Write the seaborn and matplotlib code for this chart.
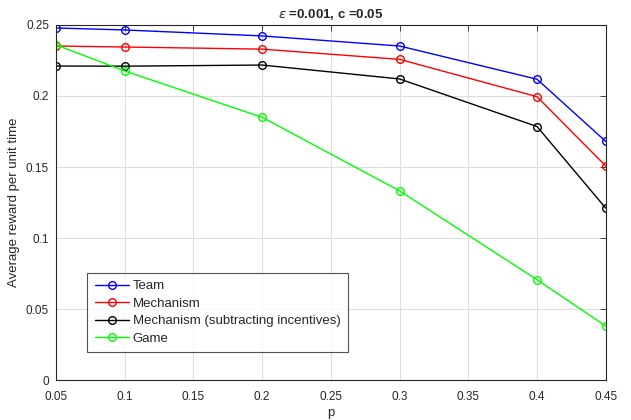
import matplotlib
matplotlib.use("Agg")
import matplotlib.pyplot as plt
import seaborn as sns
import pandas as pd

p = [0.05, 0.1, 0.2, 0.3, 0.4, 0.45]
team = [0.2479, 0.2465, 0.2423, 0.2352, 0.2118, 0.1680]
mechanism = [0.2352, 0.2345, 0.2330, 0.2258, 0.1995, 0.1507]
mech_sub = [0.2211, 0.2210, 0.2218, 0.2120, 0.1785, 0.1210]
game = [0.2360, 0.2176, 0.1850, 0.1332, 0.0706, 0.0380]

labels = ["Team", "Mechanism", "Mechanism (subtracting incentives)", "Game"]
colors = ["#0000ff", "#ff0000", "#000000", "#00ff00"]
x_ticks = [0.05, 0.1, 0.15, 0.2, 0.25, 0.3, 0.35, 0.4, 0.45]
y_ticks = [0, 0.05, 0.1, 0.15, 0.2, 0.25]

df = pd.DataFrame({
    "p": p * 4,
    "reward": team + mechanism + mech_sub + game,
    "series": [l for l in labels for _ in p],
})

sns.set_style("white")
plt.rcParams["font.family"] = ["Liberation Sans", "DejaVu Sans"]

fig = plt.figure(figsize=(6.31, 4.2), dpi=100)
ax = fig.add_axes([0.0887, 0.0952, 0.8713, 0.8453])

sns.lineplot(data=df, x="p", y="reward", hue="series", palette=colors,
             hue_order=labels, marker="o", markersize=5.5, markerfacecolor="none",
             markeredgewidth=1.0, linewidth=1.0, ax=ax, legend=False)
for line, c in zip(ax.lines, colors):
    line.set_markeredgecolor(c)

ax.set_xlim(0.05, 0.45)
ax.set_ylim(0, 0.25)
ax.set_xticks(x_ticks)
ax.set_xticklabels([f"{t:g}" for t in x_ticks])
ax.set_yticks(y_ticks)
ax.set_yticklabels([f"{t:g}" for t in y_ticks])
ax.grid(True, color="#dedede", linewidth=0.8)
ax.tick_params(direction="in", top=True, right=True, labelsize=8.5,
               colors="#262626", length=4, width=0.6)
ax.tick_params(axis="x", pad=8)
ax.tick_params(axis="y", pad=5)
for s in ax.spines.values():
    s.set_color("#262626")
    s.set_linewidth(0.8)

ax.set_xlabel("p", fontsize=9.5, color="#262626", labelpad=3)
ax.set_ylabel("Average reward per unit time", fontsize=9.5, color="#262626", labelpad=4)
ax.set_title(r"$\epsilon$ =0.001, c =0.05", fontsize=9.5, fontweight="bold", pad=5)

handles = [plt.Line2D([], [], color=c, marker="o", markerfacecolor="none",
                      markersize=5.5, linewidth=1.0) for c in colors]
leg = ax.legend(handles, labels, loc="lower left", bbox_to_anchor=(0.045, 0.06),
                fontsize=9.5, frameon=True, fancybox=False, handlelength=2.6,
                handletextpad=0.3, borderpad=0.55, labelspacing=0.4)
leg.get_frame().set_edgecolor("#262626")
leg.get_frame().set_linewidth(0.8)

fig.savefig("out.png", dpi=100)
